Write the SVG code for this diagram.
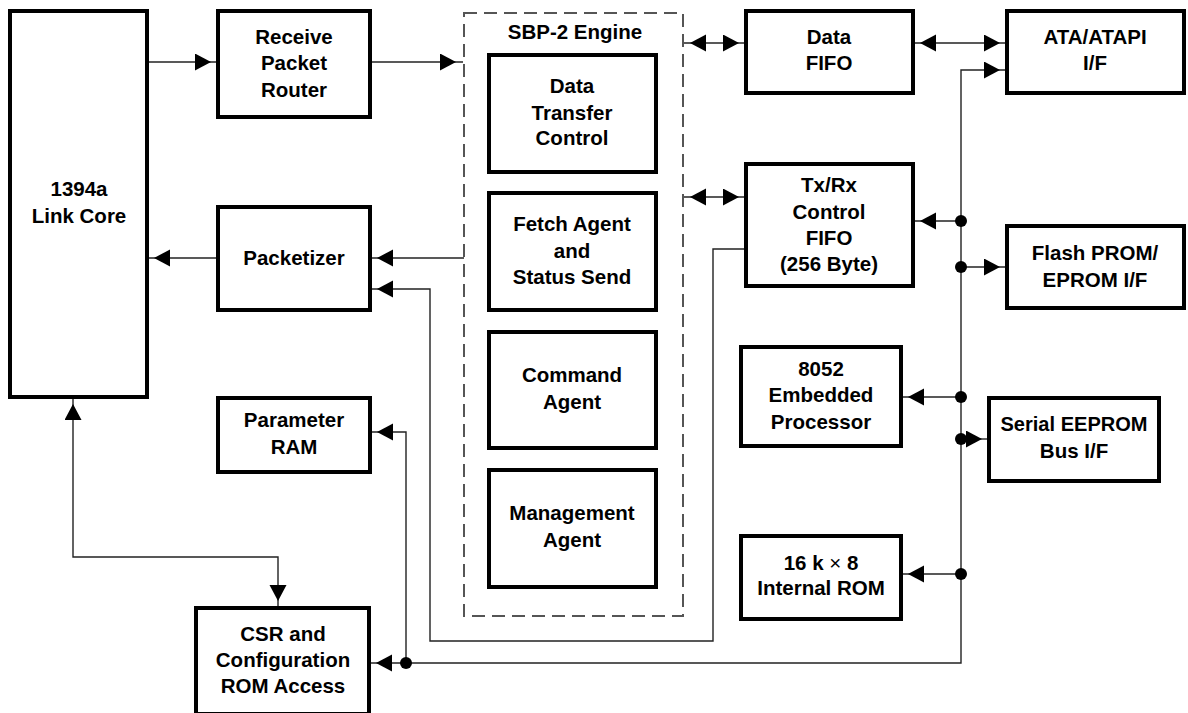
<svg xmlns="http://www.w3.org/2000/svg" width="1188" height="713" viewBox="0 0 1188 713">
<style>
.box{fill:#fff;stroke:#000;stroke-width:4}
.sbp{fill:none;stroke:#555;stroke-width:2;stroke-dasharray:13 7}
.ln{fill:none;stroke:#222;stroke-width:1.4}
.t{font-family:"Liberation Sans",Arial,sans-serif;font-weight:bold;font-size:20.5px;text-anchor:middle;fill:#000}
.dot{fill:#000}
</style>
<defs>
<marker id="arr" markerUnits="userSpaceOnUse" markerWidth="30" markerHeight="20" refX="23" refY="8.5" orient="auto-start-reverse">
<path d="M0,0 L16,8.5 L0,17 z" fill="#000"/>
</marker>
</defs>

<g id="connectors">
<line class="ln" x1="147" y1="62" x2="218" y2="62" marker-end="url(#arr)"/>
<line class="ln" x1="370" y1="62" x2="463" y2="62" marker-end="url(#arr)"/>
<line class="ln" x1="464" y1="258" x2="370" y2="258" marker-end="url(#arr)"/>
<line class="ln" x1="218" y1="258" x2="147" y2="258" marker-end="url(#arr)"/>
<polyline class="ln" points="746,249 713,249 713,641 430,641 430,289 370,289" marker-end="url(#arr)"/>
<line class="ln" x1="683" y1="43" x2="746" y2="43" marker-start="url(#arr)" marker-end="url(#arr)"/>
<line class="ln" x1="683" y1="197" x2="746" y2="197" marker-start="url(#arr)" marker-end="url(#arr)"/>
<line class="ln" x1="913" y1="43" x2="1007" y2="43" marker-start="url(#arr)" marker-end="url(#arr)"/>
<polyline class="ln" points="406,663 961,663 961,70 1007,70" marker-end="url(#arr)"/>
<line class="ln" x1="406" y1="663" x2="369" y2="663" marker-end="url(#arr)"/>
<polyline class="ln" points="406,663 406,432 370,432" marker-end="url(#arr)"/>
<line class="ln" x1="961" y1="221" x2="913" y2="221" marker-end="url(#arr)"/>
<line class="ln" x1="961" y1="267" x2="1007" y2="267" marker-end="url(#arr)"/>
<line class="ln" x1="961" y1="397" x2="901" y2="397" marker-end="url(#arr)"/>
<line class="ln" x1="961" y1="439" x2="989" y2="439" marker-end="url(#arr)"/>
<line class="ln" x1="961" y1="574" x2="901" y2="574" marker-end="url(#arr)"/>
<polyline class="ln" points="73,397 73,557 278,557 278,608" marker-start="url(#arr)" marker-end="url(#arr)"/>
<circle class="dot" cx="406" cy="663" r="6"/>
<circle class="dot" cx="961" cy="221" r="6"/>
<circle class="dot" cx="961" cy="267" r="6"/>
<circle class="dot" cx="961" cy="397" r="6"/>
<circle class="dot" cx="961" cy="439" r="6"/>
<circle class="dot" cx="961" cy="574" r="6"/>
</g>

<g id="link-core">
<rect class="box" x="10" y="11" width="137" height="386"/>
<text class="t" x="79" y="196">1394a</text>
<text class="t" x="79" y="223">Link Core</text>
</g>

<g id="receive-packet-router">
<rect class="box" x="218" y="11" width="152" height="106"/>
<text class="t" x="294" y="44">Receive</text>
<text class="t" x="294" y="70">Packet</text>
<text class="t" x="294" y="97">Router</text>
</g>

<g id="packetizer">
<rect class="box" x="218" y="207" width="152" height="103"/>
<text class="t" x="294" y="265">Packetizer</text>
</g>

<g id="parameter-ram">
<rect class="box" x="218" y="398" width="152" height="74"/>
<text class="t" x="294" y="427">Parameter</text>
<text class="t" x="294" y="454">RAM</text>
</g>

<g id="csr">
<rect class="box" x="196" y="608" width="173" height="106"/>
<text class="t" x="283" y="641">CSR and</text>
<text class="t" x="283" y="667">Configuration</text>
<text class="t" x="283" y="693">ROM Access</text>
</g>

<g id="sbp2-engine">
<rect class="sbp" x="464" y="13" width="219" height="603"/>
<text class="t" x="575" y="39">SBP-2 Engine</text>
</g>

<g id="data-transfer-control">
<rect class="box" x="489" y="55" width="167" height="117"/>
<text class="t" x="572" y="93">Data</text>
<text class="t" x="572" y="120">Transfer</text>
<text class="t" x="572" y="145">Control</text>
</g>

<g id="fetch-agent">
<rect class="box" x="489" y="193" width="167" height="117"/>
<text class="t" x="572" y="231">Fetch Agent</text>
<text class="t" x="572" y="258">and</text>
<text class="t" x="572" y="284">Status Send</text>
</g>

<g id="command-agent">
<rect class="box" x="489" y="332" width="167" height="116"/>
<text class="t" x="572" y="382">Command</text>
<text class="t" x="572" y="409">Agent</text>
</g>

<g id="management-agent">
<rect class="box" x="489" y="470" width="167" height="117"/>
<text class="t" x="572" y="520">Management</text>
<text class="t" x="572" y="547">Agent</text>
</g>

<g id="data-fifo">
<rect class="box" x="746" y="11" width="167" height="82"/>
<text class="t" x="829" y="44">Data</text>
<text class="t" x="829" y="70">FIFO</text>
</g>

<g id="txrx-fifo">
<rect class="box" x="746" y="164" width="167" height="122"/>
<text class="t" x="829" y="192">Tx/Rx</text>
<text class="t" x="829" y="219">Control</text>
<text class="t" x="829" y="245">FIFO</text>
<text class="t" x="829" y="271">(256 Byte)</text>
</g>

<g id="ata-atapi">
<rect class="box" x="1007" y="11" width="177" height="82"/>
<text class="t" x="1095" y="44">ATA/ATAPI</text>
<text class="t" x="1095" y="70">I/F</text>
</g>

<g id="flash-prom">
<rect class="box" x="1007" y="226" width="177" height="82"/>
<text class="t" x="1095" y="260">Flash PROM/</text>
<text class="t" x="1095" y="287">EPROM I/F</text>
</g>

<g id="processor-8052">
<rect class="box" x="741" y="347" width="160" height="99"/>
<text class="t" x="821" y="376">8052</text>
<text class="t" x="821" y="402">Embedded</text>
<text class="t" x="821" y="429">Processor</text>
</g>

<g id="serial-eeprom">
<rect class="box" x="989" y="398" width="170" height="83"/>
<text class="t" x="1074" y="431" textLength="147" lengthAdjust="spacingAndGlyphs">Serial EEPROM</text>
<text class="t" x="1074" y="458">Bus I/F</text>
</g>

<g id="internal-rom">
<rect class="box" x="741" y="536" width="160" height="83"/>
<text class="t" x="821" y="570">16 k <tspan font-weight="normal">×</tspan> 8</text>
<text class="t" x="821" y="595">Internal ROM</text>
</g>
</svg>
